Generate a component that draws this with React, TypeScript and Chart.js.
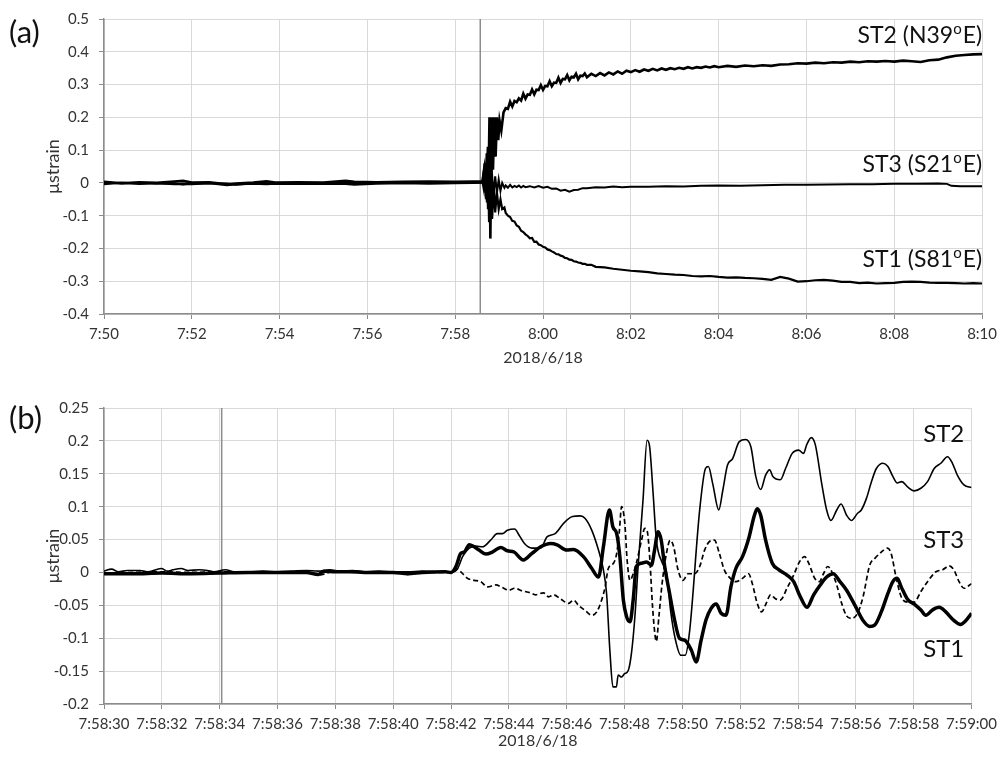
import React, { useEffect, useRef } from 'react';
import { Chart, registerables } from 'chart.js';

Chart.register(...registerables);

// ---------- Panel (a): x = minutes after 7:50:00 ----------
const aST2: [number, number][] = [
  [0, 0.003], [0.4, -0.001], [0.8, 0.002], [1.2, 0.0], [1.6, 0.004], [1.8, 0.006], [2.0, 0.001], [2.4, 0.002],
  [2.8, -0.004], [3.0, -0.002], [3.4, 0.001], [3.7, 0.005], [3.9, 0.001], [4.4, 0.002], [5.0, 0.001], [5.5, 0.006],
  [5.7, 0.003], [6.2, 0.002], [6.8, 0.003], [7.4, 0.004], [8.0, 0.003], [8.4, 0.004], [8.62, 0.005],
  [8.66, 0.04], [8.69, -0.03], [8.72, 0.09], [8.75, -0.08], [8.78, 0.2], [8.8, -0.17], [8.83, 0.2], [8.86, 0.04],
  [8.89, 0.2], [8.92, 0.08], [8.95, 0.2], [8.98, 0.13], [9.01, 0.19], [9.05, 0.16], [9.1, 0.215],
  [9.15, 0.228], [9.2, 0.226], [9.25, 0.248], [9.3, 0.233], [9.35, 0.25], [9.4, 0.246], [9.45, 0.258], [9.5, 0.251],
  [9.55, 0.272], [9.6, 0.257], [9.65, 0.27], [9.7, 0.269], [9.75, 0.285], [9.8, 0.27], [9.85, 0.284], [9.9, 0.283],
  [9.95, 0.298], [10.0, 0.284], [10.05, 0.296], [10.1, 0.295], [10.15, 0.31], [10.2, 0.295], [10.25, 0.306], [10.3, 0.305],
  [10.35, 0.321], [10.4, 0.305], [10.45, 0.317], [10.5, 0.316], [10.55, 0.329], [10.6, 0.313], [10.65, 0.324], [10.7, 0.322],
  [10.75, 0.333], [10.8, 0.316], [10.85, 0.327], [10.9, 0.326], [10.95, 0.334], [11.0, 0.322], [11.1, 0.333], [11.2, 0.326],
  [11.3, 0.335], [11.4, 0.328], [11.5, 0.337], [11.6, 0.331], [11.7, 0.34], [11.8, 0.333], [11.9, 0.342], [12.0, 0.338],
  [12.1, 0.344], [12.2, 0.339], [12.3, 0.346], [12.4, 0.342], [12.5, 0.348], [12.6, 0.343], [12.7, 0.349], [12.8, 0.345],
  [12.9, 0.35], [13.0, 0.347], [13.1, 0.351], [13.2, 0.348], [13.3, 0.353], [13.4, 0.349], [13.5, 0.353], [13.6, 0.351],
  [13.7, 0.355], [13.8, 0.352], [13.9, 0.356], [14.0, 0.353], [14.2, 0.357], [14.4, 0.354], [14.6, 0.358], [14.8, 0.356],
  [15.0, 0.359], [15.2, 0.357], [15.4, 0.361], [15.6, 0.362], [15.8, 0.365], [16.0, 0.364], [16.2, 0.367], [16.4, 0.365],
  [16.6, 0.368], [16.8, 0.367], [17.0, 0.37], [17.2, 0.368], [17.4, 0.371], [17.6, 0.37], [17.8, 0.372], [18.0, 0.37],
  [18.2, 0.373], [18.4, 0.371], [18.6, 0.369], [18.8, 0.374], [19.0, 0.376], [19.2, 0.383], [19.4, 0.388], [19.6, 0.39],
  [19.8, 0.392], [20.0, 0.393],
];

const aST1: [number, number][] = [
  [0, -0.004], [0.4, 0.001], [0.8, -0.003], [1.2, -0.001], [1.6, -0.004], [1.8, -0.003], [2.0, -0.004], [2.4, -0.001],
  [2.8, -0.007], [3.0, -0.005], [3.4, -0.002], [3.7, -0.004], [3.9, -0.002], [4.4, -0.003], [5.0, -0.002], [5.5, -0.003],
  [5.7, -0.005], [6.2, -0.002], [6.8, -0.001], [7.4, -0.002], [8.0, -0.001], [8.4, 0.0], [8.62, 0.001],
  [8.67, 0.06], [8.7, -0.05], [8.74, 0.11], [8.77, -0.12], [8.81, 0.06], [8.84, -0.11], [8.88, -0.01], [8.91, -0.09],
  [8.95, -0.03], [8.99, -0.08], [9.03, -0.05], [9.07, -0.08], [9.12, -0.075],
  [9.15, -0.092], [9.2, -0.1], [9.25, -0.104], [9.3, -0.116], [9.35, -0.118], [9.4, -0.13], [9.45, -0.134], [9.5, -0.146],
  [9.55, -0.15], [9.6, -0.157], [9.65, -0.162], [9.7, -0.169], [9.75, -0.168], [9.8, -0.18], [9.85, -0.179], [9.9, -0.188],
  [9.95, -0.19], [10.0, -0.195], [10.05, -0.197], [10.1, -0.203], [10.15, -0.205], [10.2, -0.209], [10.25, -0.212], [10.3, -0.217],
  [10.35, -0.218], [10.4, -0.222], [10.45, -0.224], [10.5, -0.229], [10.55, -0.23], [10.6, -0.234], [10.65, -0.235], [10.7, -0.239],
  [10.75, -0.24], [10.8, -0.243], [10.85, -0.244], [10.9, -0.247], [10.95, -0.247], [11.0, -0.25], [11.1, -0.25], [11.2, -0.256],
  [11.4, -0.258], [11.6, -0.262], [11.8, -0.265], [12.0, -0.268], [12.2, -0.27], [12.4, -0.272], [12.6, -0.276], [12.8, -0.278],
  [13.0, -0.28], [13.2, -0.281], [13.4, -0.284], [13.6, -0.285], [13.8, -0.284], [14.0, -0.287], [14.2, -0.289], [14.4, -0.288],
  [14.6, -0.29], [14.8, -0.291], [15.0, -0.293], [15.2, -0.296], [15.4, -0.287], [15.6, -0.292], [15.8, -0.301], [16.0, -0.3],
  [16.2, -0.297], [16.4, -0.296], [16.6, -0.298], [16.8, -0.302], [17.0, -0.302], [17.2, -0.306], [17.4, -0.304], [17.6, -0.307],
  [17.8, -0.306], [18.0, -0.305], [18.2, -0.302], [18.4, -0.301], [18.6, -0.302], [18.8, -0.304], [19.0, -0.305], [19.2, -0.305],
  [19.4, -0.306], [19.6, -0.307], [19.8, -0.306], [20.0, -0.307],
];

const aST3: [number, number][] = [
  [0, 0.001], [0.4, -0.002], [0.8, 0.0], [1.2, -0.002], [1.6, -0.001], [1.8, -0.005], [2.0, -0.001], [2.4, -0.002],
  [2.8, -0.002], [3.0, -0.006], [3.4, -0.001], [3.7, 0.0], [3.9, -0.003], [4.4, -0.001], [5.0, -0.002], [5.5, 0.001],
  [5.7, -0.002], [6.2, 0.0], [6.8, 0.001], [7.4, 0.0], [8.0, 0.001], [8.4, 0.001], [8.62, 0.002],
  [8.65, -0.02], [8.68, 0.05], [8.72, -0.06], [8.76, 0.06], [8.79, -0.05], [8.83, 0.045], [8.87, -0.04], [8.91, 0.02],
  [8.95, -0.03], [8.99, 0.01], [9.03, -0.025], [9.07, 0.0], [9.12, -0.015],
  [9.15, -0.008], [9.2, -0.015], [9.25, -0.006], [9.3, -0.014], [9.35, -0.009], [9.4, -0.013], [9.45, -0.008], [9.5, -0.014],
  [9.55, -0.009], [9.6, -0.013], [9.7, -0.01], [9.8, -0.014], [9.9, -0.01], [10.0, -0.015], [10.1, -0.012], [10.2, -0.018],
  [10.3, -0.017], [10.4, -0.024], [10.5, -0.021], [10.6, -0.027], [10.7, -0.022], [10.8, -0.021], [10.9, -0.016], [11.0, -0.016],
  [11.2, -0.013], [11.4, -0.014], [11.6, -0.011], [11.8, -0.013], [12.0, -0.012], [12.4, -0.012], [12.8, -0.01], [13.2, -0.011],
  [13.6, -0.009], [14.0, -0.008], [14.5, -0.009], [15.0, -0.007], [15.5, -0.006], [16.0, -0.006], [16.5, -0.005], [17.0, -0.004],
  [17.5, -0.004], [18.0, -0.003], [18.5, -0.003], [19.0, -0.002], [19.2, -0.003], [19.3, -0.009], [19.5, -0.01], [20.0, -0.01],
];

const aMarker = 8.57; // 7:58:34
const aLabels = [
  { main: 'ST2 (N39', after: 'E)', y: 0.427 },
  { main: 'ST3 (S21', after: 'E)', y: 0.032 },
  { main: 'ST1 (S81', after: 'E)', y: -0.257 },
];

// ---------- Panel (b): x = seconds after 7:58:30 ----------
const bST2: [number, number][] = [
  [0, 0.002], [0.26, 0.005], [0.5, 0.001], [0.8, 0.003], [1.24, 0.003], [1.5, 0.001], [1.98, 0.006], [2.2, 0.002],
  [2.38, 0.004], [2.67, 0.006], [2.9, 0.003], [3.3, 0.004], [3.58, 0.003], [3.8, 0.001], [4.2, 0.004], [4.5, 0.001],
  [5, 0.001], [5.5, 0.002], [6, 0.001], [6.5, 0.002], [7, 0.003], [7.4, 0.002], [7.8, 0.004], [8.2, 0.002],
  [8.6, 0.003], [9, 0.001], [9.5, 0.002], [10, 0.001], [10.5, 0.001], [11, 0.002], [11.5, 0.001],
  [12, 0], [12.23, 0.006], [12.4, 0.024], [12.63, 0.037], [12.86, 0.04], [13.09, 0.039], [13.37, 0.049], [13.6, 0.059],
  [13.78, 0.059], [13.95, 0.064], [14.2, 0.066], [14.35, 0.057], [14.54, 0.044], [14.8, 0.037], [15.1, 0.037], [15.32, 0.054],
  [15.6, 0.059], [15.9, 0.075], [16.2, 0.085], [16.47, 0.086], [16.64, 0.082], [16.87, 0.064], [17.1, 0.034], [17.27, 0.004],
  [17.38, -0.032], [17.5, -0.123], [17.6, -0.174], [17.72, -0.174], [17.78, -0.156], [17.9, -0.159], [18.0, -0.154], [18.13, -0.149],
  [18.24, -0.123], [18.36, -0.067], [18.47, 0.009], [18.64, 0.11], [18.78, 0.201], [18.87, 0.191], [18.99, 0.12], [19.1, 0.05],
  [19.3, 0.015], [19.45, 0.0], [19.6, -0.06], [19.75, -0.1], [19.95, -0.126], [20.1, -0.126], [20.25, -0.09], [20.6, 0.095],
  [20.8, 0.158], [20.9, 0.161], [21.05, 0.135], [21.26, 0.095], [21.4, 0.125], [21.56, 0.163], [21.74, 0.173], [21.97, 0.199],
  [22.19, 0.202], [22.37, 0.191], [22.54, 0.146], [22.71, 0.126], [22.88, 0.148], [23.02, 0.156], [23.13, 0.146], [23.39, 0.141],
  [23.57, 0.158], [23.8, 0.181], [24.02, 0.186], [24.19, 0.181], [24.3, 0.194], [24.46, 0.205], [24.6, 0.194], [24.82, 0.135],
  [24.99, 0.095], [25.14, 0.079], [25.34, 0.095], [25.49, 0.104], [25.68, 0.087], [25.85, 0.079], [26.06, 0.09], [26.19, 0.095],
  [26.37, 0.113], [26.54, 0.138], [26.71, 0.158], [26.94, 0.166], [27.11, 0.161], [27.28, 0.146], [27.43, 0.136], [27.59, 0.138],
  [27.79, 0.13], [28.02, 0.124], [28.25, 0.128], [28.48, 0.138], [28.71, 0.158], [28.94, 0.166], [29.17, 0.176], [29.34, 0.166],
  [29.51, 0.148], [29.74, 0.133], [30, 0.129],
];

const bST1: [number, number][] = [
  [0, -0.002], [1, -0.002], [2, -0.001], [3, -0.002], [4, -0.001], [5, 0], [6, 0], [7, 0], [7.42, -0.003], [7.6, 0.002],
  [8, 0.001], [8.5, 0.001], [9, 0], [10, 0], [10.5, -0.002], [11, 0], [11.8, 0.001],
  [12, 0], [12.17, 0.009], [12.34, 0.029], [12.46, 0.031], [12.63, 0.042], [12.8, 0.039], [12.97, 0.034], [13.2, 0.028],
  [13.43, 0.031], [13.72, 0.038], [13.95, 0.033], [14.18, 0.031], [14.5, 0.019], [14.8, 0.029], [15.1, 0.039], [15.44, 0.044],
  [15.67, 0.042], [16.0, 0.034], [16.24, 0.035], [16.58, 0.024], [16.87, 0.006], [17.1, -0.007], [17.27, 0.039], [17.48, 0.095],
  [17.6, 0.069], [17.73, 0.059], [17.84, 0.024], [17.96, -0.042], [18.07, -0.067], [18.19, -0.075], [18.3, -0.042], [18.41, 0.009],
  [18.59, 0.014], [18.76, 0.016], [18.93, 0.011], [19.04, 0.034], [19.16, 0.062], [19.27, 0.049], [19.39, 0.009], [19.56, -0.032],
  [19.73, -0.072], [19.9, -0.1], [20.08, -0.103], [20.31, -0.118], [20.48, -0.136], [20.65, -0.103], [20.82, -0.072], [20.99, -0.055],
  [21.17, -0.048], [21.34, -0.062], [21.51, -0.065], [21.68, -0.022], [21.85, 0.006], [22.08, 0.024], [22.31, 0.054], [22.48, 0.085],
  [22.59, 0.097], [22.71, 0.087], [22.88, 0.049], [23.11, 0.014], [23.34, 0.004], [23.62, -0.004], [23.85, -0.014], [24.08, -0.037],
  [24.31, -0.053], [24.54, -0.034], [24.77, -0.019], [24.99, -0.007], [25.22, -0.002], [25.45, -0.014], [25.68, -0.027], [25.97, -0.05],
  [26.25, -0.073], [26.48, -0.082], [26.65, -0.08], [26.88, -0.06], [27.11, -0.032], [27.28, -0.014], [27.43, -0.009], [27.57, -0.022],
  [27.79, -0.041], [28.02, -0.048], [28.25, -0.057], [28.42, -0.065], [28.65, -0.057], [28.88, -0.053], [29.11, -0.06], [29.39, -0.073],
  [29.62, -0.079], [29.79, -0.074], [30, -0.062],
];

const bST3: [number, number][] = [
  [0, -0.001], [1, 0], [2, 0.001], [3, 0], [4, 0.001], [5, 0], [6, 0.001], [7, 0], [7.42, -0.004], [8, 0.002],
  [9, 0], [10, 0.001], [10.5, -0.003], [11, 0],
  [12, 0], [12.17, 0.006], [12.34, 0.001], [12.57, -0.009], [12.8, -0.012], [13.03, -0.014], [13.26, -0.022], [13.55, -0.019],
  [13.78, -0.023], [14.0, -0.027], [14.2, -0.024], [14.46, -0.028], [14.75, -0.031], [14.92, -0.034], [15.2, -0.031], [15.38, -0.037],
  [15.55, -0.034], [15.78, -0.04], [16.07, -0.047], [16.24, -0.042], [16.41, -0.05], [16.64, -0.058], [16.87, -0.065], [17.04, -0.06],
  [17.21, -0.042], [17.33, -0.022], [17.44, 0.006], [17.62, 0.014], [17.73, 0.029], [17.82, 0.062], [17.9, 0.1], [18.01, 0.075],
  [18.09, 0.019], [18.19, -0.012], [18.3, -0.002], [18.41, 0.014], [18.59, 0.049], [18.7, 0.067], [18.78, 0.064], [18.87, 0.024],
  [18.97, -0.052], [19.05, -0.093], [19.1, -0.105], [19.19, -0.067], [19.3, -0.017], [19.45, 0.029], [19.58, 0.049], [19.7, 0.039],
  [19.85, 0.004], [20.02, -0.012], [20.2, -0.002], [20.42, -0.002], [20.6, 0.009], [20.77, 0.034], [20.94, 0.047], [21.11, 0.049],
  [21.28, 0.029], [21.45, 0.004], [21.62, -0.007], [21.85, -0.014], [22.08, -0.009], [22.29, -0.002], [22.42, -0.017], [22.59, -0.047],
  [22.74, -0.06], [22.9, -0.047], [23.05, -0.034], [23.22, -0.04], [23.39, -0.042], [23.62, -0.024], [23.85, -0.004], [24.05, 0.016],
  [24.23, 0.024], [24.37, 0.014], [24.58, -0.009], [24.74, -0.014], [24.88, -0.002], [25.03, 0.009], [25.17, 0.001], [25.34, -0.019],
  [25.51, -0.047], [25.68, -0.066], [25.85, -0.07], [26.06, -0.062], [26.25, -0.037], [26.48, 0.011], [26.65, 0.021], [26.88, 0.031],
  [27.09, 0.037], [27.22, 0.029], [27.39, -0.007], [27.57, -0.037], [27.79, -0.045], [28.02, -0.045], [28.25, -0.029], [28.48, -0.014],
  [28.77, 0.001], [29.0, 0.004], [29.23, 0.01], [29.39, 0.004], [29.57, -0.014], [29.74, -0.024], [30, -0.017],
];

const bMarker = 4.07; // 7:58:34
const bLabels = [
  { main: 'ST2', after: '', y: 0.198 },
  { main: 'ST3', after: '', y: 0.037 },
  { main: 'ST1', after: '', y: -0.129 },
];

const FONT = 'Lato';
const TICK_COLOR = '#333333';

function pad2(n: number) {
  return n < 10 ? '0' + n : String(n);
}
function fmtHM(minAfter750: number) {
  const total = 7 * 60 + 50 + Math.round(minAfter750);
  return `${Math.floor(total / 60)}:${pad2(total % 60)}`;
}
function fmtHMS(secAfter: number) {
  const total = 7 * 3600 + 58 * 60 + 30 + Math.round(secAfter);
  const h = Math.floor(total / 3600);
  const m = Math.floor((total % 3600) / 60);
  const s = total % 60;
  return `${h}:${pad2(m)}:${pad2(s)}`;
}

const labelPlugin = {
  id: 'stLabels',
  afterDatasetsDraw(chart: any, _args: any, opts: any) {
    const { ctx, scales } = chart;
    const xr = scales.x.getPixelForValue(opts.xRight);
    ctx.save();
    ctx.fillStyle = '#111';
    ctx.textBaseline = 'alphabetic';
    const mainFont = `${opts.size}px ${FONT}`;
    const supFont = `${opts.supSize}px ${FONT}`;
    for (const it of opts.items) {
      const y = scales.y.getPixelForValue(it.y);
      ctx.textAlign = 'left';
      ctx.font = mainFont;
      if (it.after) {
        const wMain = ctx.measureText(it.main).width;
        const wAfter = ctx.measureText(it.after).width;
        ctx.font = supFont;
        const wSup = ctx.measureText('o').width + 1;
        let cx = xr - wAfter - wSup - wMain;
        ctx.font = mainFont;
        ctx.fillText(it.main, cx, y);
        cx += wMain;
        ctx.font = supFont;
        ctx.fillText('o', cx, y - opts.supRaise);
        cx += wSup;
        ctx.font = mainFont;
        ctx.fillText(it.after, cx, y);
      } else {
        ctx.textAlign = 'right';
        ctx.fillText(it.main, xr, y);
      }
    }
    ctx.font = `${opts.tagSize}px ${FONT}`;
    ctx.textAlign = 'left';
    ctx.fillText(opts.tag, opts.tagX, opts.tagY);
    ctx.restore();
  },
};

function lineDs(pts: [number, number][], width: number, extra: any = {}) {
  return {
    data: pts.map(([x, y]) => ({ x, y })),
    borderColor: '#000',
    borderWidth: width,
    pointRadius: 0,
    fill: false,
    ...extra,
  };
}

function makeScales(opt: {
  xMin: number; xMax: number; xStep: number; xFmt: (v: number) => string;
  yMin: number; yMax: number; yStep: number; xAxisH: number; titlePadB: number; tickPad: number;
}) {
  return {
    x: {
      type: 'linear',
      min: opt.xMin,
      max: opt.xMax,
      ticks: {
        stepSize: opt.xStep,
        autoSkip: false,
        maxRotation: 0,
        color: TICK_COLOR,
        font: { family: FONT, size: 15 },
        padding: opt.tickPad,
        callback: (v: any) => opt.xFmt(Number(v)),
      },
      grid: { color: '#d9d9d9', lineWidth: 1, tickColor: '#8c8c8c', tickLength: 5, drawTicks: true },
      border: { color: '#8c8c8c', width: 1.5 },
      title: {
        display: true,
        text: '2018/6/18',
        color: TICK_COLOR,
        font: { family: FONT, size: 16 },
        padding: { top: 0, bottom: opt.titlePadB },
      },
      afterFit: (s: any) => { s.height = opt.xAxisH; },
    },
    y: {
      type: 'linear',
      min: opt.yMin,
      max: opt.yMax,
      ticks: {
        stepSize: opt.yStep,
        color: TICK_COLOR,
        font: { family: FONT, size: 15 },
        padding: 10,
        callback: (v: any) => String(Math.round(Number(v) * 100) / 100),
      },
      grid: { color: '#d9d9d9', lineWidth: 1, tickColor: '#8c8c8c', tickLength: 5, drawTicks: true },
      border: { color: '#8c8c8c', width: 1.5 },
      title: {
        display: true,
        text: 'μstrain',
        color: TICK_COLOR,
        font: { family: FONT, size: 18 },
        padding: { top: 42, bottom: 0 },
      },
      afterFit: (s: any) => { s.width = 104; },
    },
  };
}

export default function App() {
  const refA = useRef<HTMLCanvasElement>(null);
  const refB = useRef<HTMLCanvasElement>(null);

  useEffect(() => {
    const chartA = new Chart(refA.current as HTMLCanvasElement, {
      type: 'line',
      data: {
        datasets: [
          lineDs(aST2, 2.6),
          lineDs(aST3, 2),
          lineDs(aST1, 2.2),
          lineDs([[aMarker, -0.4], [aMarker, 0.5]], 1.5, { borderColor: '#8c8c8c' }),
        ],
      } as any,
      options: {
        responsive: false,
        animation: false,
        events: [],
        layout: { padding: { left: 0, right: 16, top: 18, bottom: 0 } },
        plugins: {
          legend: { display: false },
          tooltip: { enabled: false },
          stLabels: {
            items: aLabels, xRight: 20, size: 23, supSize: 15, supRaise: 9,
            tag: '(a)', tagSize: 31, tagX: 9, tagY: 43,
          },
        } as any,
        scales: makeScales({
          xMin: 0, xMax: 20, xStep: 2, xFmt: fmtHM,
          yMin: -0.4, yMax: 0.5, yStep: 0.1, xAxisH: 58, titlePadB: 5, tickPad: 6,
        }) as any,
      },
      plugins: [labelPlugin as any],
    });

    const chartB = new Chart(refB.current as HTMLCanvasElement, {
      type: 'line',
      data: {
        datasets: [
          lineDs(bST1, 3.5, { cubicInterpolationMode: 'monotone' }),
          lineDs(bST2, 1.6, { cubicInterpolationMode: 'monotone' }),
          lineDs(bST3, 1.7, { cubicInterpolationMode: 'monotone', borderDash: [5, 3] }),
          lineDs([[bMarker, -0.2], [bMarker, 0.25]], 1.5, { borderColor: '#8c8c8c' }),
        ],
      } as any,
      options: {
        responsive: false,
        animation: false,
        events: [],
        layout: { padding: { left: 0, right: 25, top: 36, bottom: 0 } },
        plugins: {
          legend: { display: false },
          tooltip: { enabled: false },
          stLabels: {
            items: bLabels, xRight: 29.75, size: 24, supSize: 15, supRaise: 9,
            tag: '(b)', tagSize: 31, tagX: 9, tagY: 57,
          },
        } as any,
        scales: makeScales({
          xMin: 0, xMax: 30, xStep: 2, xFmt: fmtHMS,
          yMin: -0.2, yMax: 0.25, yStep: 0.05, xAxisH: 54, titlePadB: 8, tickPad: 6,
        }) as any,
      },
      plugins: [labelPlugin as any],
    });

    return () => {
      chartA.destroy();
      chartB.destroy();
    };
  }, []);

  return (
    <div style={{ position: 'absolute', left: 0, top: 0, width: 1003, height: 758, background: '#fff' }}>
      <canvas ref={refA} width={1003} height={372} style={{ position: 'absolute', left: 0, top: 0 }} />
      <canvas ref={refB} width={1003} height={386} style={{ position: 'absolute', left: 0, top: 372 }} />
    </div>
  );
}
